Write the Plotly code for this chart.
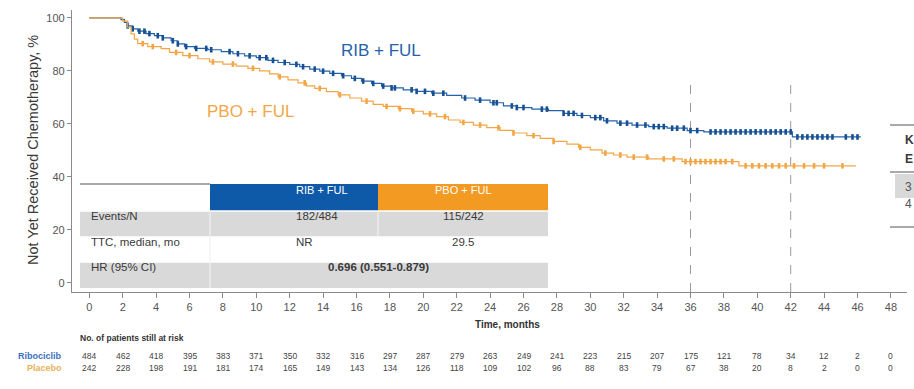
import numpy as np
import plotly.graph_objects as go

# ---- Kaplan-Meier step points: months and % not yet received chemotherapy ----
rib_time = [0, 1.9, 2.1, 2.3, 2.6, 2.9, 3.4, 3.9, 4.4, 4.9, 5.3, 5.7, 6.3, 7.1, 7.9, 8.6,
            9.3, 10.0, 10.7, 11.3, 12.0, 12.6, 13.2, 13.8, 14.4, 15.1, 15.7, 16.3, 16.9,
            17.5, 18.1, 18.8, 19.6, 20.5, 21.4, 22.3, 23.1, 24.0, 24.8, 25.6, 26.5, 27.5,
            28.4, 29.2, 30.0, 30.8, 31.6, 32.5, 33.5, 34.6, 35.8, 36.8, 42.1]
rib_surv = [100, 99.4, 98.3, 97.0, 95.9, 95.0, 94.1, 93.3, 92.5, 91.4, 90.2, 89.2, 88.5,
            88.0, 87.3, 86.5, 85.7, 85.0, 84.0, 83.2, 82.5, 81.6, 80.7, 79.9, 79.1, 78.2,
            77.2, 76.2, 75.3, 74.3, 73.6, 72.9, 72.3, 71.6, 70.8, 69.8, 69.0, 68.0, 66.8,
            66.2, 65.6, 65.0, 64.0, 63.2, 62.4, 61.2, 60.3, 59.6, 59.0, 58.4, 57.5, 57.0,
            55.1]
rib_last = 46.2

pbo_time = [0, 2.0, 2.3, 2.5, 2.7, 2.9, 3.5, 4.3, 4.8, 5.6, 6.5, 7.2, 8.0, 8.8, 9.5, 10.2,
            10.8, 11.3, 11.9, 12.5, 13.0, 13.5, 14.2, 14.9, 15.6, 16.3, 17.0, 17.6, 18.5,
            19.3, 20.0, 20.8, 21.5, 22.2, 23.0, 23.8, 24.6, 25.4, 26.2, 27.0, 27.8, 28.6,
            29.3, 30.0, 30.7, 31.4, 32.2, 33.5, 35.5, 38.9]
pbo_surv = [100, 98.8, 96.5, 94.0, 92.0, 90.3, 89.2, 88.4, 87.0, 85.8, 84.6, 83.4, 82.6,
            81.8, 81.0, 80.0, 78.9, 77.8, 76.6, 75.5, 74.4, 73.4, 72.2, 71.0, 69.8, 68.6,
            67.4, 66.6, 65.8, 64.8, 63.8, 62.8, 61.5, 60.6, 59.6, 58.6, 57.6, 56.6, 55.6,
            54.6, 53.4, 52.4, 51.2, 50.2, 49.0, 48.3, 47.5, 46.8, 45.8, 44.2]
pbo_last = 45.9

# censoring times (months)
rib_censor = [2.3, 2.6, 3.0, 3.3, 3.6, 4.1, 4.4, 5.0, 5.3, 5.8, 6.4, 7.0, 7.3, 8.4, 8.9,
              9.6, 10.2, 10.6, 11.0, 11.7, 12.4, 12.8, 13.5, 14.0, 14.6, 15.2, 15.9, 16.4,
              17.0, 17.6, 18.1, 18.3, 19.3, 19.6, 20.1, 20.6, 21.2, 22.5, 23.4, 24.2, 24.4,
              25.3, 25.6, 26.0, 27.1, 27.4, 28.4, 28.7, 29.0, 29.5, 30.3, 30.6, 31.0, 31.8,
              32.2, 32.8, 33.3, 33.8, 34.1, 34.4, 34.9, 35.2, 35.6, 36.0, 36.4, 37.2, 37.5,
              37.8, 38.1, 38.4, 38.7, 39.0, 39.3, 39.6, 39.9, 40.2, 40.5, 40.8, 41.1, 41.4,
              41.7, 42.0, 42.4, 42.7, 43.0, 43.3, 43.6, 43.9, 44.2, 44.5, 45.3, 45.7, 46.0]
pbo_censor = [3.2, 3.8, 5.2, 6.0, 7.4, 8.6, 9.8, 11.4, 12.9, 13.8, 15.0, 16.6, 17.8, 18.6,
              19.4, 20.4, 21.3, 22.4, 23.4, 24.5, 25.4, 26.6, 27.8, 29.4, 30.9, 31.8, 32.6,
              33.4, 34.4, 35.0, 35.7, 36.0, 36.3, 36.6, 36.9, 37.2, 37.5, 37.8, 38.1, 38.5,
              39.3, 39.7, 40.1, 40.5, 40.9, 41.3, 41.7, 42.2, 42.8, 43.4, 44.0, 45.1]

# patients at risk
risk_months = list(range(0, 50, 2))
rib_at_risk = [484, 462, 418, 395, 383, 371, 350, 332, 316, 297, 287, 279, 263, 249, 241,
               223, 215, 207, 175, 121, 78, 34, 12, 2, 0]
pbo_at_risk = [242, 228, 198, 191, 181, 174, 165, 149, 143, 134, 126, 118, 109, 102, 96,
               88, 83, 79, 67, 38, 20, 8, 2, 0, 0]

# summary table
arm_names = ["RIB + FUL", "PBO + FUL"]
row_labels = ["Events/N", "TTC, median, mo", "HR (95% CI)"]
events_n = ["182/484", "115/242"]
median_ttc = ["NR", "29.5"]
hr_text = "0.696 (0.551-0.879)"
landmarks = [36, 42]
# landmark table column, only its first glyphs fall inside the page
edge_table_text = ["K", "E", "3", "4"]

# ---- styling ----
BLUE = "#2462ab"
BLUE_DARK = "#164f92"
ORANGE = "#f2a646"
ORANGE_HDR = "#f29a22"
BLUE_HDR = "#0e5aa8"
GRAY_ROW = "#d9d9d9"
TXT = "#3a3a3a"
NARROW = "Liberation Sans Narrow, Arial Narrow, Liberation Sans, Arial, sans-serif"
SANS = "Liberation Sans, Arial, sans-serif"

W, H = 914, 389
L, R, T, B = 72, 7, 10, 97
PW, PH = W - L - R, H - T - B


def fx(px):
    return (px - L) / PW


def fy(py):
    return (H - B - py) / PH


def step_at(times, surv, t):
    idx = np.searchsorted(np.asarray(times), np.asarray(t), side="right") - 1
    return np.asarray(surv)[idx]


fig = go.Figure()

for times, surv, last, cens, col, mcol in [
    (rib_time, rib_surv, rib_last, rib_censor, BLUE, BLUE_DARK),
    (pbo_time, pbo_surv, pbo_last, pbo_censor, ORANGE, ORANGE),
]:
    fig.add_trace(go.Scatter(
        x=list(times) + [last], y=list(surv) + [surv[-1]],
        mode="lines", line=dict(color=col, width=1.2, shape="hv"),
        hoverinfo="skip", showlegend=False))
    fig.add_trace(go.Scatter(
        x=cens, y=step_at(times, surv, cens), mode="markers",
        marker=dict(symbol="line-ns", size=4, line=dict(color=mcol, width=2.6)),
        hoverinfo="skip", showlegend=False))

shapes = []
annotations = []

# landmark dashed lines
for m in landmarks:
    shapes.append(dict(type="line", xref="x", yref="y", x0=m, x1=m, y0=-3.4, y1=77,
                       line=dict(color="#9a9a9a", width=1, dash="dash"), layer="below"))

# curve labels
annotations.append(dict(x=fx(339), y=fy(39), xref="paper", yref="paper", text=arm_names[0],
                        showarrow=False, font=dict(family=SANS, size=17, color=BLUE)))
annotations.append(dict(x=fx(205), y=fy(100), xref="paper", yref="paper", text=arm_names[1],
                        showarrow=False, font=dict(family=SANS, size=17, color=ORANGE)))

# ---- summary table ----
col_x = [80, 210, 378, 548]
row_y = [184, 211, 237, 262, 288]
shapes.append(dict(type="line", xref="paper", yref="paper", x0=fx(80), x1=fx(210),
                   y0=fy(184), y1=fy(184), line=dict(color="#555555", width=1)))
for i, (c0, c1, fill) in enumerate([(210, 378, BLUE_HDR), (378, 548, ORANGE_HDR)]):
    shapes.append(dict(type="rect", xref="paper", yref="paper", x0=fx(c0), x1=fx(c1),
                       y0=fy(row_y[1]), y1=fy(row_y[0]), fillcolor=fill, line=dict(width=0)))
    annotations.append(dict(x=fx((c0 + c1) / 2), y=fy(198), xref="paper", yref="paper",
                            text=arm_names[i], showarrow=False,
                            font=dict(family=NARROW, size=11, color="white")))
for r in (0, 2):
    shapes.append(dict(type="rect", xref="paper", yref="paper", x0=fx(80), x1=fx(548),
                       y0=fy(row_y[r + 2]), y1=fy(row_y[r + 1]), fillcolor=GRAY_ROW,
                       line=dict(width=0)))
# thin white cell dividers
for yy in row_y[1:4]:
    shapes.append(dict(type="line", xref="paper", yref="paper", x0=fx(80), x1=fx(548),
                       y0=fy(yy), y1=fy(yy), line=dict(color="white", width=1.5)))
shapes.append(dict(type="line", xref="paper", yref="paper", x0=fx(210), x1=fx(210),
                   y0=fy(288), y1=fy(211), line=dict(color="#f2f2f2", width=1.2)))
shapes.append(dict(type="line", xref="paper", yref="paper", x0=fx(378), x1=fx(378),
                   y0=fy(237), y1=fy(211), line=dict(color="#f2f2f2", width=1.2)))

row_vals = [events_n, median_ttc]
for r, lab in enumerate(row_labels):
    yc = fy((row_y[r + 1] + row_y[r + 2]) / 2)
    annotations.append(dict(x=fx(89), y=yc, xref="paper", yref="paper", text=lab,
                            xanchor="left", showarrow=False,
                            font=dict(family=SANS, size=11.5, color=TXT)))
    if r < 2:
        for c in range(2):
            annotations.append(dict(x=fx((col_x[c + 1] + col_x[c + 2]) / 2), y=yc,
                                    xref="paper", yref="paper", text=row_vals[r][c],
                                    showarrow=False,
                                    font=dict(family=SANS, size=11.5, color=TXT)))
    else:
        annotations.append(dict(x=fx(378), y=yc, xref="paper", yref="paper",
                                text="<b>" + hr_text + "</b>", showarrow=False,
                                font=dict(family=SANS, size=11.5, color=TXT)))

# ---- landmark estimate table at the right edge ----
for yy in (125, 172, 227):
    shapes.append(dict(type="line", xref="paper", yref="paper", x0=fx(890), x1=fx(930),
                       y0=fy(yy), y1=fy(yy), line=dict(color="#555555", width=1)))
shapes.append(dict(type="rect", xref="paper", yref="paper", x0=fx(895), x1=fx(930),
                   y0=fy(198), y1=fy(174), fillcolor=GRAY_ROW, line=dict(width=0)))
for txt, yy, bold in zip(edge_table_text, (140, 159, 187, 213), (True, True, False, False)):
    annotations.append(dict(x=fx(903), y=fy(yy), xref="paper", yref="paper",
                            text=("<b>%s</b>" % txt) if bold else txt, xanchor="left",
                            showarrow=False,
                            font=dict(family=SANS, size=12, color=TXT if bold else "#555")))

# ---- axis titles ----
annotations.append(dict(x=fx(23), y=fy(150), xref="paper", yref="paper",
                        text="Not Yet Received Chemotherapy, %", textangle=-90,
                        showarrow=False, font=dict(family=SANS, size=14.5, color="#3a3a3a")))
annotations.append(dict(x=fx(473), y=fy(332), xref="paper", yref="paper",
                        text="<b>Time, months</b>", xanchor="left", showarrow=False,
                        font=dict(family=NARROW, size=10, color="#333")))

# ---- number at risk ----
annotations.append(dict(x=fx(78), y=fy(345), xref="paper", yref="paper",
                        text="<b>No. of patients still at risk</b>", xanchor="left",
                        showarrow=False, font=dict(family=NARROW, size=8.5, color="#333")))
annotations.append(dict(x=fx(64), y=fy(363), xref="paper", yref="paper",
                        text="<b>Ribociclib</b>", xanchor="right", showarrow=False,
                        font=dict(family=NARROW, size=9, color="#3b6fc0")))
annotations.append(dict(x=fx(64), y=fy(375), xref="paper", yref="paper",
                        text="<b>Placebo</b>", xanchor="right", showarrow=False,
                        font=dict(family=NARROW, size=9, color="#e9b25a")))
for m, a, b in zip(risk_months, rib_at_risk, pbo_at_risk):
    annotations.append(dict(x=m, y=fy(363), xref="x", yref="paper", text=str(a),
                            showarrow=False, font=dict(family=NARROW, size=8.5, color="#444")))
    annotations.append(dict(x=m, y=fy(375), xref="x", yref="paper", text=str(b),
                            showarrow=False, font=dict(family=NARROW, size=8.5, color="#444")))

x_lo = (L - 89.3) / 16.70
x_hi = (W - R - 89.3) / 16.70
fig.update_layout(
    width=W, height=H,
    margin=dict(l=L, r=R, t=T, b=B, pad=0),
    paper_bgcolor="white", plot_bgcolor="white",
    showlegend=False,
    shapes=shapes, annotations=annotations,
    xaxis=dict(range=[x_lo, x_hi], tickvals=risk_months, ticks="outside", ticklen=5,
               tickcolor="#8a8a8a", showline=True, linecolor="#8a8a8a", linewidth=1.2,
               showgrid=False, zeroline=False,
               tickfont=dict(family=NARROW, size=11, color="#555")),
    yaxis=dict(range=[-3.4, 103.0], tickvals=[0, 20, 40, 60, 80, 100], ticks="outside",
               ticklen=4, tickcolor="#8a8a8a", showline=True, linecolor="#8a8a8a",
               linewidth=1.2, showgrid=False, zeroline=False,
               tickfont=dict(family=NARROW, size=11, color="#555")),
)

fig.write_html("out.html")
